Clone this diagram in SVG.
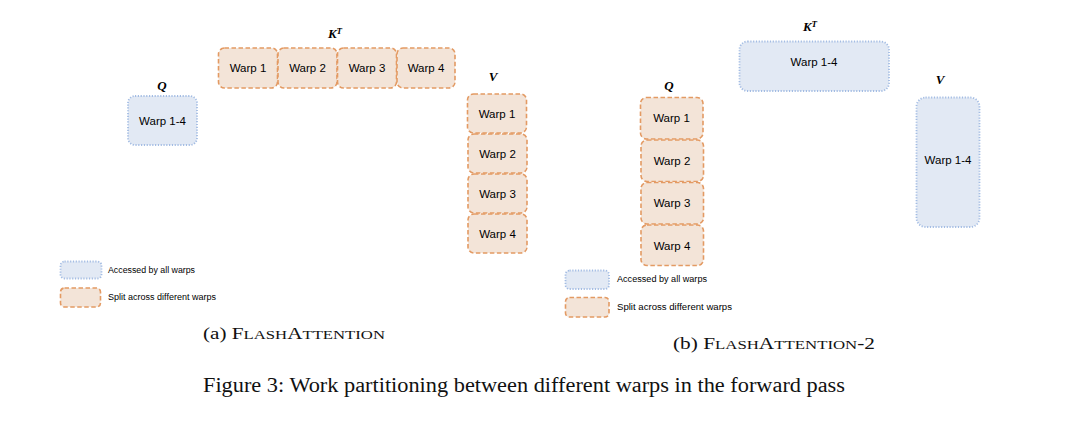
<svg xmlns="http://www.w3.org/2000/svg" width="1080" height="437" viewBox="0 0 1080 437">
<style>
.split{fill:#f3e4d8;stroke:#e39a63;stroke-width:1.6;stroke-dasharray:4.5 2.5}
.all{fill:#e2e9f4;stroke:#a3bce3;stroke-width:1.8;stroke-dasharray:1.2 1.6}
.wt{font-family:"Liberation Sans",Arial,sans-serif;font-size:11.5px;fill:#000;text-anchor:middle}
.lg{font-family:"Liberation Sans",Arial,sans-serif;font-size:9.2px;fill:#000}
.mx{font-family:"Liberation Serif","Times New Roman",serif;font-weight:bold;font-style:italic;font-size:13px;fill:#000;text-anchor:middle}
.cap{font-family:"Liberation Serif","Times New Roman",serif;fill:#111}
</style>
<rect width="1080" height="437" fill="#fff"/>

<!-- Left panel: FlashAttention -->
<g id="a-q-label"><text class="mx" x="162" y="90">Q</text></g>
<g id="a-q"><rect class="all" x="128" y="96" width="69" height="49" rx="7"/><text class="wt" x="162.5" y="124.5">Warp 1-4</text></g>

<g id="a-kt-label"><text class="mx" x="335" y="38">K<tspan dy="-4.5" font-size="9">T</tspan></text></g>
<g id="a-kt-1"><rect class="split" x="218.5" y="48" width="59" height="40" rx="6"/><text class="wt" x="248" y="72">Warp 1</text></g>
<g id="a-kt-2"><rect class="split" x="278" y="48" width="59" height="40" rx="6"/><text class="wt" x="307.5" y="72">Warp 2</text></g>
<g id="a-kt-3"><rect class="split" x="337.5" y="48" width="59" height="40" rx="6"/><text class="wt" x="367" y="72">Warp 3</text></g>
<g id="a-kt-4"><rect class="split" x="397" y="48" width="58" height="40" rx="6"/><text class="wt" x="426" y="72">Warp 4</text></g>

<g id="a-v-label"><text class="mx" x="493" y="81">V</text></g>
<g id="a-v-1"><rect class="split" x="467.5" y="94" width="59" height="39" rx="6"/><text class="wt" x="497" y="117.5">Warp 1</text></g>
<g id="a-v-2"><rect class="split" x="468" y="134" width="59" height="39" rx="6"/><text class="wt" x="497.5" y="157.5">Warp 2</text></g>
<g id="a-v-3"><rect class="split" x="468" y="174" width="59" height="39" rx="6"/><text class="wt" x="497.5" y="197.5">Warp 3</text></g>
<g id="a-v-4"><rect class="split" x="468" y="214" width="59" height="39" rx="6"/><text class="wt" x="497.5" y="237.5">Warp 4</text></g>

<g id="a-legend">
<rect class="all" x="60.5" y="261.5" width="41" height="17" rx="4"/>
<text class="lg" x="108" y="273" textLength="87" lengthAdjust="spacingAndGlyphs">Accessed by all warps</text>
<rect class="split" x="60.5" y="288" width="40" height="19" rx="4"/>
<text class="lg" x="108" y="300" textLength="108" lengthAdjust="spacingAndGlyphs">Split across different warps</text>
</g>

<g id="a-caption"><text class="cap" x="203" y="338.5" font-size="16.5" textLength="182" lengthAdjust="spacingAndGlyphs">(a) F<tspan font-size="13">LASH</tspan>A<tspan font-size="13">TTENTION</tspan></text></g>

<!-- Right panel: FlashAttention-2 -->
<g id="b-kt-label"><text class="mx" x="810" y="31">K<tspan dy="-4.5" font-size="9">T</tspan></text></g>
<g id="b-kt"><rect class="all" x="739.5" y="41.5" width="149.5" height="49.5" rx="8"/><text class="wt" x="814" y="66">Warp 1-4</text></g>

<g id="b-q-label"><text class="mx" x="669" y="90">Q</text></g>
<g id="b-q-1"><rect class="split" x="640.5" y="97.5" width="62.5" height="41.5" rx="6"/><text class="wt" x="671.5" y="122">Warp 1</text></g>
<g id="b-q-2"><rect class="split" x="641" y="140" width="62.5" height="41.5" rx="6"/><text class="wt" x="672" y="164.5">Warp 2</text></g>
<g id="b-q-3"><rect class="split" x="641" y="182.5" width="62.5" height="41.5" rx="6"/><text class="wt" x="672" y="207">Warp 3</text></g>
<g id="b-q-4"><rect class="split" x="641" y="225" width="62.5" height="40.5" rx="6"/><text class="wt" x="672" y="249.5">Warp 4</text></g>

<g id="b-v-label"><text class="mx" x="940" y="84">V</text></g>
<g id="b-v"><rect class="all" x="916.5" y="97.5" width="63" height="129.5" rx="9"/><text class="wt" x="948" y="163.5">Warp 1-4</text></g>

<g id="b-legend">
<rect class="all" x="565.5" y="270.5" width="43.5" height="18.5" rx="4"/>
<text class="lg" x="617" y="281.5" textLength="90" lengthAdjust="spacingAndGlyphs">Accessed by all warps</text>
<rect class="split" x="565.5" y="297.5" width="43.5" height="19.5" rx="4"/>
<text class="lg" x="617" y="309.5" textLength="115" lengthAdjust="spacingAndGlyphs">Split across different warps</text>
</g>

<g id="b-caption"><text class="cap" x="673" y="348.5" font-size="16.5" textLength="202" lengthAdjust="spacingAndGlyphs">(b) F<tspan font-size="13">LASH</tspan>A<tspan font-size="13">TTENTION</tspan>-2</text></g>

<g id="figure-caption"><text class="cap" x="203" y="392" font-size="20.5" textLength="642" lengthAdjust="spacingAndGlyphs">Figure 3: Work partitioning between different warps in the forward pass</text></g>

<g id="connectors"></g>
</svg>
